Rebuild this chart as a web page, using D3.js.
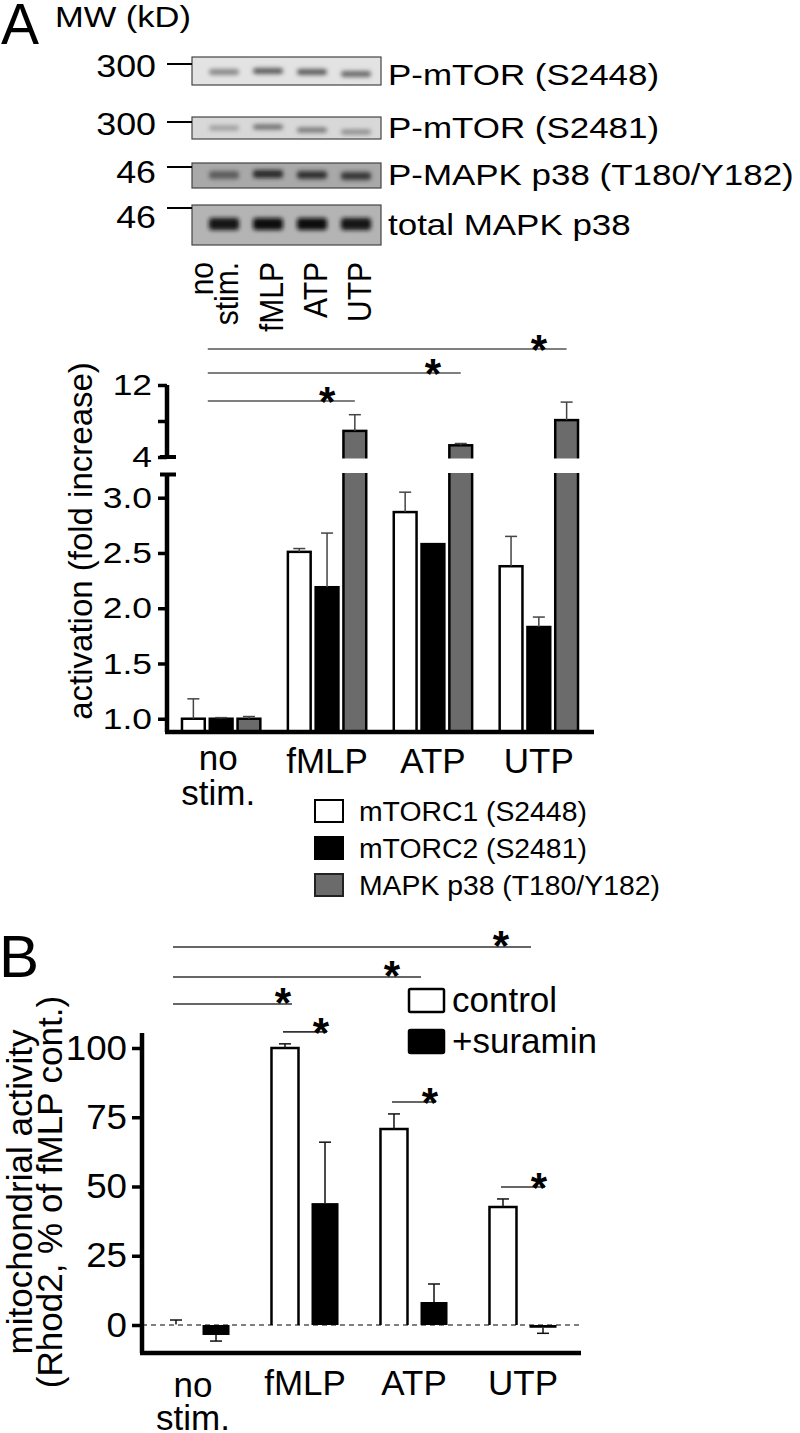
<!DOCTYPE html>
<html>
<head>
<meta charset="utf-8">
<script src="https://cdn.jsdelivr.net/npm/d3@7"></script>
<style>
  body { margin: 0; background: #fff; }
  text { font-family: "Liberation Sans", Arial, sans-serif; fill: #000; }
</style>
</head>
<body>
<script>
// ---- data ----
const lanes = ['no stim.', 'fMLP', 'ATP', 'UTP'];
const blotNames = ['P-mTOR (S2448)', 'P-mTOR (S2481)', 'P-MAPK p38 (T180/Y182)', 'total MAPK p38'];
const blotMW = ['300', '300', '46', '46'];
// band darkness per lane (0 = none, 1 = black), read by eye
const bandS2448 = [0.40, 0.62, 0.62, 0.55];
const bandS2481 = [0.30, 0.55, 0.50, 0.38];
const bandP38 = [0.62, 0.88, 0.84, 0.80];
const bandTotal = [0.97, 1.0, 1.0, 0.98];
const blotBands = [bandS2448, bandS2481, bandP38, bandTotal];

const groups = ['no stim.', 'fMLP', 'ATP', 'UTP'];
const seriesA = ['mTORC1 (S2448)', 'mTORC2 (S2481)', 'MAPK p38 (T180/Y182)'];
const mtorc1 = [1.0, 2.51, 2.87, 2.38];
const mtorc1Err = [0.18, 0.03, 0.18, 0.27];
const mtorc2 = [1.0, 2.19, 2.58, 1.83];
const mtorc2Err = [0.01, 0.49, 0, 0.09];
const p38 = [1.0, 6.9, 5.3, 8.1];
const p38Err = [0.02, 1.8, 0.2, 2.0];
const ticksLow = [1.0, 1.5, 2.0, 2.5, 3.0];
const ticksHigh = [4, 8, 12];
const sigA = ['fMLP', 'ATP', 'UTP']; // each vs no stim.

const seriesB = ['control', '+suramin'];
const control = [0.2, 100, 70.8, 42.6];
const controlErr = [1.6, 1.5, 5.4, 2.9];
const suramin = [-3.6, 44, 8.3, -1.0];
const suraminErr = [2.2, 22, 6.5, 2.0];
const ticksB = [0, 25, 50, 75, 100];
const sigB = ['fMLP', 'ATP', 'UTP']; // control vs no stim. control
const sigBExt = [7, 27, 28];

// ---- helpers ----
const svg = d3.select('body').append('svg').attr('width', 800).attr('height', 1433);

function label(sel, s, x, y, o) {
  o = o || {};
  let tr = `translate(${x},${y})`;
  if (o.rot) tr += ` rotate(${o.rot})`;
  if (o.sx || o.sy) tr += ` scale(${o.sx || 1},${o.sy || 1})`;
  const t = sel.append('text').text(s)
    .attr('font-size', o.size || 30)
    .attr('text-anchor', o.anchor || 'start')
    .attr('transform', tr);
  if (o.weight) t.attr('font-weight', o.weight);
  return t;
}
function star(sel, x, y) { // x,y = centre of the asterisk glyph
  label(sel, '*', x, y + 25, { size: 42, anchor: 'middle', weight: 'bold' });
}

// ---- western blots ----
const defs = svg.append('defs');
defs.append('filter').attr('id', 'blur').attr('x', '-30%').attr('y', '-80%').attr('width', '160%').attr('height', '260%')
  .append('feGaussianBlur').attr('stdDeviation', 2);

const lane = d3.scalePoint().domain(lanes).range([224, 356]);
const blotBox = [[57, 85], [117, 139], [163, 188], [205, 245]];
const blotBg = ['#e3e3e3', '#d8d8d8', '#a9a9a9', '#b4b4b4'];
const bandH = [6, 5, 8, 12];
const bandY = [[72, 71, 72, 74], [128, 127, 130, 132], [175, 174, 175, 176], [224, 224, 224, 224]];
const tickY = [64, 122, 167, 208];
const mwBase = [77, 135, 183, 228];
const nameBase = [85, 138, 185, 235];
const shade = d3.interpolateRgb('#d8d8d8', '#111');

blotNames.forEach((name, r) => {
  const g = svg.append('g');
  const [y0, y1] = blotBox[r];
  g.append('rect').attr('x', 192).attr('y', y0).attr('width', 189).attr('height', y1 - y0)
    .attr('fill', blotBg[r]).attr('stroke', '#444').attr('stroke-width', 1.2);
  g.append('g').attr('filter', 'url(#blur)').selectAll('rect')
    .data(blotBands[r]).join('rect')
    .attr('x', (d, i) => lane(lanes[i]) - 15)
    .attr('y', (d, i) => bandY[r][i] - bandH[r] / 2)
    .attr('width', 30).attr('height', bandH[r]).attr('rx', 3)
    .attr('fill', d => shade(d));
  g.append('line').attr('x1', 167).attr('x2', 192).attr('y1', tickY[r]).attr('y2', tickY[r])
    .attr('stroke', '#000').attr('stroke-width', 2);
  label(g, blotMW[r], 156, mwBase[r], { size: 32, anchor: 'end', sx: 1.12 });
  label(g, name, 388, nameBase[r], { size: 30, sx: 1.165 });
});

label(svg, 'A', 1, 44, { size: 57 });
label(svg, 'MW (kD)', 55, 27, { size: 30, sx: 1.15 });

// lane labels (rotated)
const laneText = [['no', -11], ['stim.', 14]];
laneText.forEach(([s, dx]) => label(svg, s, lane('no stim.') + dx, 262, { size: 30, anchor: 'end', rot: -90, sy: 1.08 }));
lanes.slice(1).forEach(l => label(svg, l, lane(l) + 15, 262, { size: 30, anchor: 'end', rot: -90, sy: 1.08 }));

// ---- panel A bar chart ----
const gA = svg.append('g');
const yLow = d3.scaleLinear().domain([0.88, 3.21]).range([732, 474.5]);
const yUp = d3.scaleLinear().domain([4, 12]).range([457, 385]);
const x0 = d3.scaleBand().domain(groups).range([168, 592]).paddingInner(0.26).paddingOuter(0.132);
const x1 = d3.scaleBand().domain(seriesA).range([0, x0.bandwidth()]).paddingInner(0.18);
const valsA = [mtorc1, mtorc2, p38];
const errsA = [mtorc1Err, mtorc2Err, p38Err];
const fillA = ['#fff', '#000', '#6b6b6b'];
const yA = v => (v > 3.2 ? yUp(v) : yLow(v));

const barsA = [];
seriesA.forEach((s, si) => groups.forEach((gname, gi) => {
  barsA.push({ s, si, g: gname, v: valsA[si][gi], e: errsA[si][gi] });
}));

gA.selectAll('rect.bar').data(barsA).join('rect').attr('class', 'bar')
  .attr('x', d => x0(d.g) + x1(d.s))
  .attr('y', d => yA(d.v))
  .attr('width', x1.bandwidth())
  .attr('height', d => yLow.range()[0] - yA(d.v))
  .attr('fill', d => fillA[d.si])
  .attr('stroke', '#000').attr('stroke-width', 2.5);

const errA = gA.append('g').attr('stroke', '#444').attr('stroke-width', 1.5);
barsA.filter(d => d.e > 0).forEach(d => {
  const cx = x0(d.g) + x1(d.s) + x1.bandwidth() / 2;
  const yt = yA(d.v + d.e);
  errA.append('line').attr('x1', cx).attr('x2', cx).attr('y1', yA(d.v)).attr('y2', yt);
  errA.append('line').attr('x1', cx - 6).attr('x2', cx + 6).attr('y1', yt).attr('y2', yt);
});

// axis break gap
gA.append('rect').attr('x', 170).attr('y', yUp.range()[0] + 1.5).attr('width', 430)
  .attr('height', yLow.range()[1] - yUp.range()[0] - 3).attr('fill', '#fff');

const axLow = gA.append('g').attr('transform', 'translate(167,0)')
  .call(d3.axisLeft(yLow).tickValues(ticksLow).tickFormat(d3.format('.1f')).tickSize(9).tickPadding(6));
const axUp = gA.append('g').attr('transform', 'translate(167,0)')
  .call(d3.axisLeft(yUp).tickValues(ticksHigh).tickFormat(d => (d === 8 ? '' : d)).tickSize(9).tickPadding(6));
[axLow, axUp].forEach(ax => {
  ax.select('.domain').remove();
  ax.selectAll('.tick line').attr('stroke', '#000').attr('stroke-width', 3.5);
  // widen the labels a bit around their right edge
  ax.selectAll('.tick text').attr('font-size', 30).attr('font-family', null)
    .attr('x', 0).attr('transform', 'translate(-15,0) scale(1.18,1)');
});
gA.append('line').attr('x1', 167).attr('x2', 167).attr('y1', yUp.range()[1]).attr('y2', yUp.range()[0])
  .attr('stroke', '#000').attr('stroke-width', 4.5);
gA.append('line').attr('x1', 167).attr('x2', 167).attr('y1', yLow.range()[1]).attr('y2', yLow.range()[0])
  .attr('stroke', '#000').attr('stroke-width', 4.5);
[yUp.range()[0], yLow.range()[1]].forEach(y => gA.append('line')
  .attr('x1', 160).attr('x2', 176).attr('y1', y).attr('y2', y).attr('stroke', '#000').attr('stroke-width', 4));
gA.append('line').attr('x1', 165).attr('x2', 594).attr('y1', yLow.range()[0]).attr('y2', yLow.range()[0])
  .attr('stroke', '#000').attr('stroke-width', 4.5);

label(gA, 'activation (fold increase)', 92, 541, { size: 33, anchor: 'middle', rot: -90 });

groups.forEach(gname => {
  const cx = x0(gname) + x0.bandwidth() / 2;
  if (gname === 'no stim.') {
    label(gA, 'no', cx - 3, 770, { size: 35, anchor: 'middle' });
    label(gA, 'stim.', cx - 3, 805, { size: 35, anchor: 'middle' });
  } else {
    label(gA, gname, cx, 773, { size: 35, anchor: 'middle' });
  }
});

// significance, panel A
const sigAg = gA.append('g');
sigA.forEach((to, i) => {
  const yy = [401, 373, 349][i];
  const xs = x0('no stim.') + x1(seriesA[1]) - 2;
  const xe = x0(to) + x1(seriesA[2]) + x1.bandwidth() / 2;
  sigAg.append('line').attr('x1', xs).attr('x2', xe).attr('y1', yy).attr('y2', yy)
    .attr('stroke', '#555').attr('stroke-width', 1.6);
  star(sigAg, x0(to) + x1(seriesA[1]) + x1.bandwidth() / 2, yy - 10);
});

// legend A
const legA = svg.append('g');
seriesA.forEach((s, i) => {
  const y = 800 + i * 37;
  legA.append('rect').attr('x', 315).attr('y', y).attr('width', 28).attr('height', 22)
    .attr('fill', fillA[i]).attr('stroke', i === 2 ? '#222' : '#000').attr('stroke-width', 2);
  label(legA, s, 359, y + 21, { size: 27, sx: 1.05 });
});

// ---- panel B ----
const gB = svg.append('g');
const yB = d3.scaleLinear().domain([0, 100]).range([1325, 1048]);
const xb0 = d3.scaleBand().domain(groups).range([142, 577]).paddingInner(0.385).paddingOuter(0.188);
const xb1 = d3.scaleBand().domain(seriesB).range([0, xb0.bandwidth()]).paddingInner(0.325);
const valsB = [control, suramin];
const errsB = [controlErr, suraminErr];
const barsB = [];
seriesB.forEach((s, si) => groups.forEach((gname, gi) => {
  barsB.push({ s, si, g: gname, v: valsB[si][gi], e: errsB[si][gi] });
}));

barsB.forEach(d => {
  const xl = xb0(d.g) + xb1(d.s), w = xb1.bandwidth();
  const yt = yB(d.v), yz = yB(0);
  if (d.si === 0) {
    if (d.v > 1) {
      const p = d3.path();
      p.moveTo(xl, yz); p.lineTo(xl, yt); p.lineTo(xl + w, yt); p.lineTo(xl + w, yz);
      gB.append('path').attr('d', p.toString()).attr('fill', '#fff').attr('stroke', '#000').attr('stroke-width', 2.5);
    }
  } else {
    gB.append('rect').attr('x', xl).attr('y', Math.min(yt, yz)).attr('width', w)
      .attr('height', Math.max(Math.abs(yt - yz), 2)).attr('fill', '#000');
  }
  const cx = xl + w / 2;
  const ye = yB(d.v + (d.v < 0 ? -d.e : d.e));
  gB.append('line').attr('x1', cx).attr('x2', cx).attr('y1', yt).attr('y2', ye).attr('stroke', '#111').attr('stroke-width', 1.5);
  gB.append('line').attr('x1', cx - 6).attr('x2', cx + 6).attr('y1', ye).attr('y2', ye).attr('stroke', '#111').attr('stroke-width', 1.5);
});

gB.append('line').attr('x1', 142).attr('x2', 580).attr('y1', yB(0)).attr('y2', yB(0))
  .attr('stroke', '#000').attr('stroke-width', 1).attr('stroke-dasharray', '5,4');

const axB = gB.append('g').attr('transform', 'translate(142,0)')
  .call(d3.axisLeft(yB).tickValues(ticksB).tickSize(10).tickPadding(5));
axB.select('.domain').remove();
axB.selectAll('.tick line').attr('stroke', '#000').attr('stroke-width', 3.5);
axB.selectAll('.tick text').attr('font-size', 35).attr('font-family', null)
  .attr('x', 0).attr('transform', 'translate(-15,0) scale(1.05,1)');
gB.append('line').attr('x1', 142).attr('x2', 142).attr('y1', yB(105.4)).attr('y2', yB(-10.1))
  .attr('stroke', '#000').attr('stroke-width', 4.5);
gB.append('line').attr('x1', 140).attr('x2', 581).attr('y1', yB(-10.1)).attr('y2', yB(-10.1))
  .attr('stroke', '#000').attr('stroke-width', 4.5);

label(gB, 'mitochondrial activity', 32, 1192, { size: 35, anchor: 'middle', rot: -90 });
label(gB, '(Rhod2, % of fMLP cont.)', 62, 1192, { size: 35, anchor: 'middle', rot: -90 });
label(svg, 'B', -1, 977, { size: 60 });

groups.forEach(gname => {
  const cx = xb0(gname) + xb0.bandwidth() / 2;
  if (gname === 'no stim.') {
    label(gB, 'no', cx - 3, 1397, { size: 35, anchor: 'middle' });
    label(gB, 'stim.', cx - 3, 1430, { size: 35, anchor: 'middle' });
  } else {
    label(gB, gname, cx, 1395, { size: 35, anchor: 'middle' });
  }
});

// significance, panel B
const sigBg = gB.append('g');
const ctrlC = gname => xb0(gname) + xb1('control') + xb1.bandwidth() / 2;
const surC = gname => xb0(gname) + xb1('+suramin') + xb1.bandwidth() / 2;
sigB.forEach((to, i) => {
  const y = [1004, 977, 947][i];
  sigBg.append('line').attr('x1', ctrlC('no stim.') - 3).attr('x2', ctrlC(to) + sigBExt[i]).attr('y1', y).attr('y2', y)
    .attr('stroke', '#333').attr('stroke-width', 1.6);
  star(sigBg, ctrlC(to) - 2, y - 12);
});
groups.slice(1).forEach(gname => {
  const gi = groups.indexOf(gname);
  const y = yB(control[gi] + controlErr[gi]) - 12;
  sigBg.append('line').attr('x1', ctrlC(gname) - 2).attr('x2', surC(gname) + 2).attr('y1', y).attr('y2', y)
    .attr('stroke', '#333').attr('stroke-width', 1.6);
  star(sigBg, surC(gname) - 4, y - 10);
});

// legend B
const legB = svg.append('g');
seriesB.forEach((s, i) => {
  const y = 989 + i * 41;
  legB.append('rect').attr('x', 409).attr('y', y).attr('width', 35).attr('height', 23).attr('rx', 1.5)
    .attr('fill', i === 0 ? '#fff' : '#000').attr('stroke', '#000').attr('stroke-width', 2.5);
  label(legB, s, 452, y + 23, { size: 35 });
});
</script>
</body>
</html>
